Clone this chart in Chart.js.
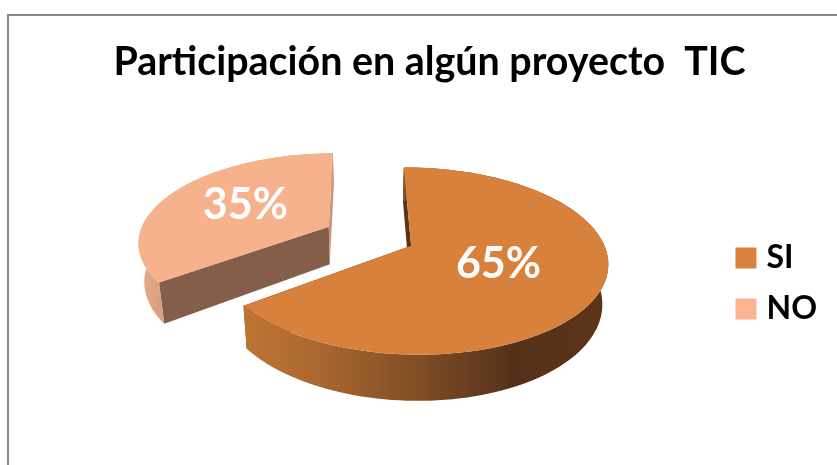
<!DOCTYPE html>
<html>
<head>
<meta charset="utf-8">
<style>
body { margin: 0; background: #fff; }
#frame { position: absolute; left: 7px; top: 14px; right: 0; bottom: 0; border-top: 2px solid #888; border-left: 2px solid #888; }
#myChart { position: absolute; left: 0; top: 0; }
</style>
<script src="https://cdn.jsdelivr.net/npm/chart.js@4"></script>
</head>
<body>
<div id="frame"></div>
<canvas id="myChart" width="837" height="465"></canvas>
<script>
const categories = ['SI', 'NO'];
const values = [65, 35];
const chartTitle = 'Participación en algún proyecto  TIC';
const faceColors = ['#d8813c', '#f5b28c'];
const legendColors = ['#d9823f', '#fab491'];

// fake 3D settings for the tilted pie
const view = {
    shiftX: -8, shiftY: 12,
    scaleX: 190 / 180, scaleY: 88 / 180,
    perspective: 0.16, explode: 0.242,
    depth: 38, bottomShrink: 0.975,
    labelX: -4, labelY: -3
};

const wallStops = [
    [[0, '#bd7433'], [0.2, '#ab6830'], [0.5, '#7d4b24'], [0.75, '#55311a'], [1, '#5c3418']],
    [[0, '#e3a989'], [1, '#d0987a']]
];
const cutColors = [['#5a3418', '#5a3418'], ['#845e4b', '#c9967a']];

function Pt(arc, angle, radius, bottom) {
    const R = arc.outerRadius;
    const mid = (arc.startAngle + arc.endAngle) / 2;
    const U = radius * Math.cos(angle) + view.explode * Math.cos(mid);
    const V = radius * Math.sin(angle) + view.explode * Math.sin(mid);
    const d = 1 - view.perspective * V;
    let x = R * view.scaleX * U / d;
    let y = R * view.scaleY * V / d;
    if (bottom) {
        x = x * view.bottomShrink;
        y = y + view.depth / d;
    }
    return { x: arc.x + view.shiftX + x, y: arc.y + view.shiftY + y };
}

function fillPoly(ctx, pts, fill) {
    ctx.beginPath();
    pts.forEach((p, i) => i ? ctx.lineTo(p.x, p.y) : ctx.moveTo(p.x, p.y));
    ctx.closePath();
    ctx.fillStyle = fill;
    ctx.fill();
}

function rimPoints(arc, bottom) {
    const pts = [];
    for (let i = 0; i <= 120; i++) {
        const a = arc.startAngle + (arc.endAngle - arc.startAngle) * i / 120;
        pts.push(Pt(arc, a, 1, bottom));
    }
    return pts;
}

const pie3d = {
    id: 'pie3d',
    beforeDatasetDraw(chart) {
        const ctx = chart.ctx;
        const arcs = chart.getDatasetMeta(0).data;
        // back slice first
        [1, 0].forEach(i => {
            const arc = arcs[i].getProps(['x', 'y', 'startAngle', 'endAngle', 'outerRadius'], true);
            const top = rimPoints(arc, false);
            const low = rimPoints(arc, true);

            // cut faces
            [arc.startAngle, arc.endAngle].forEach((a, n) => {
                fillPoly(ctx, [Pt(arc, a, 0, false), Pt(arc, a, 1, false), Pt(arc, a, 1, true), Pt(arc, a, 0, true)], cutColors[i][n]);
            });

            // outer wall
            const xs = low.map(p => p.x);
            const g = ctx.createLinearGradient(Math.min(...xs), 0, i === 0 ? Math.max(...xs) : Math.min(...xs) + 30, 0);
            wallStops[i].forEach(s => g.addColorStop(s[0], s[1]));
            fillPoly(ctx, top.concat(low.slice().reverse()), g);

            // top face
            fillPoly(ctx, [Pt(arc, 0, 0, false)].concat(top), faceColors[i]);
        });

        // percent labels
        ctx.font = 'bold 43px Lato';
        ctx.fillStyle = '#fff';
        ctx.textAlign = 'center';
        ctx.textBaseline = 'middle';
        arcs.forEach((el, i) => {
            const arc = el.getProps(['x', 'y', 'startAngle', 'endAngle', 'outerRadius'], true);
            const p = Pt(arc, (arc.startAngle + arc.endAngle) / 2, 0.5, false);
            ctx.fillText(values[i] + '%', p.x + view.labelX, p.y + view.labelY);
        });
        return false;
    }
};

const ctx = document.getElementById('myChart').getContext('2d');
ctx.letterSpacing = '0.01px'; // turns off the Lato ti ligature

const myChart = new Chart(ctx, {
    type: 'pie',
    data: {
        labels: categories,
        datasets: [{
            data: values,
            backgroundColor: legendColors,
            borderWidth: 0,
            radius: 180
        }]
    },
    options: {
        responsive: false,
        animation: false,
        rotation: -0.5,
        layout: { padding: { left: 32, right: 10, bottom: 121 } },
        plugins: {
            tooltip: { enabled: false },
            title: {
                display: true,
                text: chartTitle,
                color: '#000',
                font: { family: 'Lato', size: 39.4, weight: 'bold' },
                padding: { top: 39, bottom: 18 }
            },
            legend: {
                position: 'right',
                align: 'end',
                onClick: null,
                labels: {
                    color: '#000',
                    usePointStyle: true,
                    pointStyle: 'rect',
                    boxWidth: 9,
                    boxHeight: 21,
                    padding: 19,
                    font: { family: 'Lato', size: 32, weight: 'bold' }
                }
            }
        }
    },
    plugins: [pie3d]
});
</script>
</body>
</html>
